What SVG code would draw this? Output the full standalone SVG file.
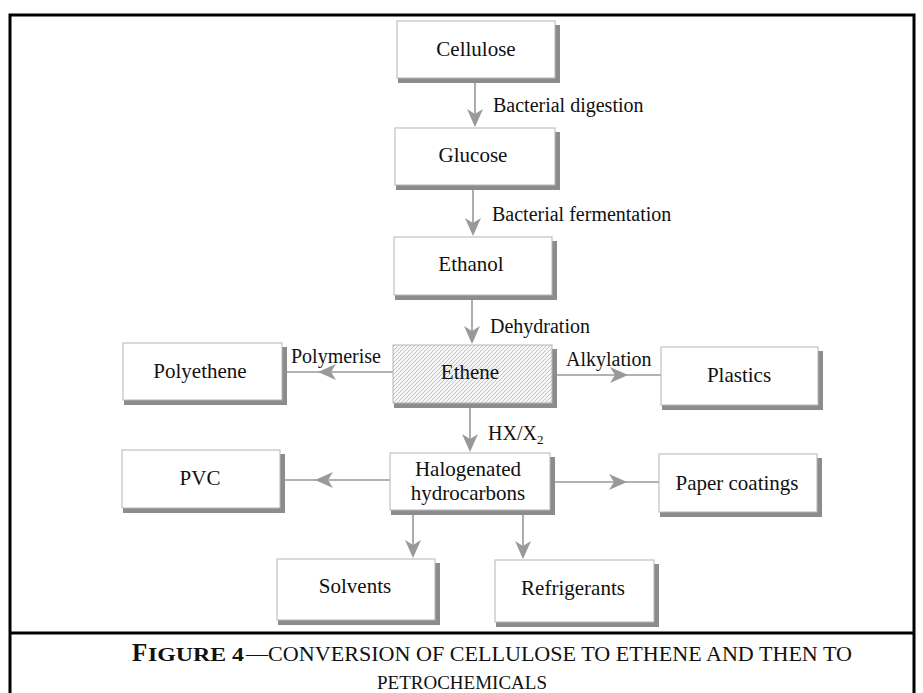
<svg xmlns="http://www.w3.org/2000/svg" width="923" height="693" viewBox="0 0 923 693">
<style>
.box{fill:#ffffff;stroke:#b5b5b5;stroke-width:1}
.sh{fill:#8c8c8c}
.lbl{font-family:"Liberation Serif","Times New Roman",serif;font-size:21px;fill:#111;text-anchor:middle}
.elbl{font-family:"Liberation Serif","Times New Roman",serif;font-size:20px;fill:#111}
.ln{stroke:#999;stroke-width:1.6;fill:none}
.ah{fill:#999}
.frame{stroke:#000;stroke-width:3;fill:none}
.cap{font-family:"Liberation Serif","Times New Roman",serif;fill:#111}
</style>
<defs>
<pattern id="hatch" patternUnits="userSpaceOnUse" width="4" height="4">
<rect width="4" height="4" fill="#f6f6f6"/>
<path d="M-1,1 L1,-1 M0,4 L4,0 M3,5 L5,3" stroke="#b8b8b8" stroke-width="0.8"/>
</pattern>
<path id="ah" d="M0,0 L-18,-8 L-13,0 L-18,8 Z"/>
</defs>

<g id="frame">
<path class="frame" d="M10,693 V15 H914 V693"/>
<line class="frame" x1="10" y1="633" x2="914" y2="633"/>
</g>

<g id="connectors">
<line class="ln" x1="475" y1="83" x2="475" y2="124"/>
<use href="#ah" class="ah" transform="translate(475,127) rotate(90)"/>
<line class="ln" x1="473" y1="190" x2="473" y2="233"/>
<use href="#ah" class="ah" transform="translate(473,236) rotate(90)"/>
<line class="ln" x1="472" y1="300" x2="472" y2="341"/>
<use href="#ah" class="ah" transform="translate(472,344) rotate(90)"/>
<line class="ln" x1="470" y1="408" x2="470" y2="449"/>
<use href="#ah" class="ah" transform="translate(470,452) rotate(90)"/>
<line class="ln" x1="393" y1="372" x2="287" y2="372"/>
<use href="#ah" class="ah" transform="translate(318,372) rotate(180)"/>
<line class="ln" x1="557" y1="375" x2="661" y2="375"/>
<use href="#ah" class="ah" transform="translate(628,375)"/>
<line class="ln" x1="390" y1="480" x2="285" y2="480"/>
<use href="#ah" class="ah" transform="translate(315,480) rotate(180)"/>
<line class="ln" x1="555" y1="482" x2="659" y2="482"/>
<use href="#ah" class="ah" transform="translate(627,482)"/>
<line class="ln" x1="413" y1="515" x2="413" y2="555"/>
<use href="#ah" class="ah" transform="translate(413,558) rotate(90)"/>
<line class="ln" x1="523" y1="515" x2="523" y2="556"/>
<use href="#ah" class="ah" transform="translate(523,559) rotate(90)"/>
<text class="elbl" x="493" y="112">Bacterial digestion</text>
<text class="elbl" x="492" y="221">Bacterial fermentation</text>
<text class="elbl" x="490" y="333">Dehydration</text>
<text class="elbl" x="291" y="363">Polymerise</text>
<text class="elbl" x="566" y="366">Alkylation</text>
<text class="elbl" x="488" y="440">HX/X<tspan font-size="13" dy="4">2</tspan></text>
</g>

<g id="cellulose">
<rect class="sh" x="398" y="25" width="162" height="58"/>
<rect class="box" x="397" y="21" width="158" height="57"/>
<text class="lbl" x="476" y="56">Cellulose</text>
</g>
<g id="glucose">
<rect class="sh" x="396" y="132" width="164" height="58"/>
<rect class="box" x="395" y="128" width="160" height="57"/>
<text class="lbl" x="473" y="162">Glucose</text>
</g>
<g id="ethanol">
<rect class="sh" x="395" y="241" width="162" height="59"/>
<rect class="box" x="394" y="237" width="158" height="58"/>
<text class="lbl" x="471" y="271">Ethanol</text>
</g>
<g id="ethene">
<rect class="sh" x="394" y="349" width="163" height="59"/>
<rect class="box" x="393" y="345" width="159" height="58" style="fill:url(#hatch)"/>
<text class="lbl" x="470" y="379">Ethene</text>
</g>
<g id="polyethene">
<rect class="sh" x="124" y="347" width="163" height="58"/>
<rect class="box" x="123" y="343" width="159" height="57"/>
<text class="lbl" x="200" y="378">Polyethene</text>
</g>
<g id="plastics">
<rect class="sh" x="662" y="351" width="161" height="59"/>
<rect class="box" x="661" y="347" width="157" height="58"/>
<text class="lbl" x="739" y="382">Plastics</text>
</g>
<g id="halogenated">
<rect class="sh" x="391" y="457" width="164" height="58"/>
<rect class="box" x="390" y="453" width="160" height="57"/>
<text class="lbl" x="468" y="476">Halogenated</text>
<text class="lbl" x="468" y="500">hydrocarbons</text>
</g>
<g id="pvc">
<rect class="sh" x="123" y="454" width="162" height="59"/>
<rect class="box" x="122" y="450" width="158" height="58"/>
<text class="lbl" x="200" y="485">PVC</text>
</g>
<g id="paper-coatings">
<rect class="sh" x="660" y="458" width="162" height="59"/>
<rect class="box" x="659" y="454" width="158" height="58"/>
<text class="lbl" x="737" y="490">Paper coatings</text>
</g>
<g id="solvents">
<rect class="sh" x="278" y="563" width="162" height="62"/>
<rect class="box" x="277" y="559" width="158" height="61"/>
<text class="lbl" x="355" y="593">Solvents</text>
</g>
<g id="refrigerants">
<rect class="sh" x="496" y="564" width="163" height="63"/>
<rect class="box" x="495" y="560" width="159" height="62"/>
<text class="lbl" x="573" y="595">Refrigerants</text>
</g>

<g id="caption">
<text class="cap" x="132" y="661" font-size="25" font-weight="bold">F</text>
<text class="cap" x="148" y="661" font-size="19" font-weight="bold" textLength="96" lengthAdjust="spacingAndGlyphs">IGURE 4</text>
<text class="cap" x="246" y="661" font-size="20" textLength="606" lengthAdjust="spacingAndGlyphs">—CONVERSION OF CELLULOSE TO ETHENE AND THEN TO</text>
<text class="cap" x="462" y="689" font-size="19" text-anchor="middle">PETROCHEMICALS</text>
</g>
</svg>
